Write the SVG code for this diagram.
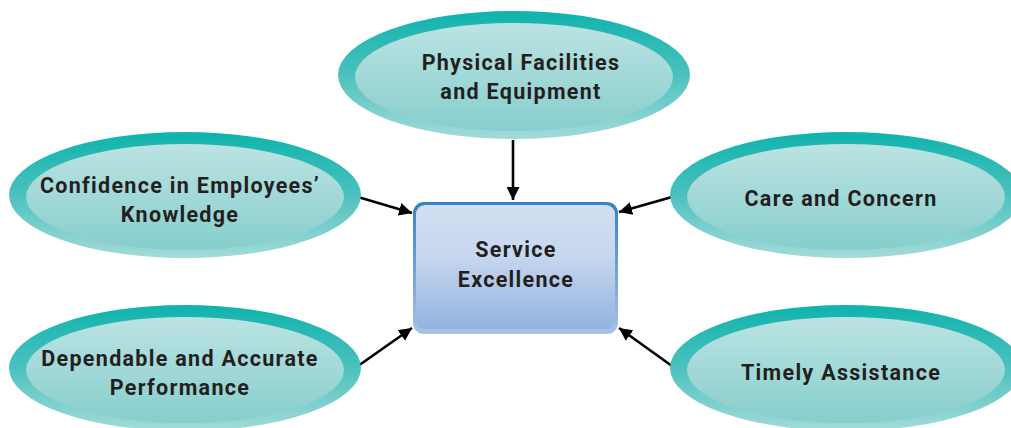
<svg xmlns="http://www.w3.org/2000/svg" width="1011" height="428" viewBox="0 0 1011 428">
<defs>
<linearGradient id="outer" x1="0" y1="0" x2="0" y2="1">
<stop offset="0" stop-color="#0fb3ad"/>
<stop offset="0.5" stop-color="#4cc1be"/>
<stop offset="1" stop-color="#a3dbd9"/>
</linearGradient>
<linearGradient id="inner" x1="0" y1="0" x2="0" y2="1">
<stop offset="0" stop-color="#bce3e3"/>
<stop offset="1" stop-color="#86cecc"/>
</linearGradient>
<linearGradient id="box" x1="0" y1="0" x2="0" y2="1">
<stop offset="0" stop-color="#d3dff1"/>
<stop offset="0.4" stop-color="#c7d7ee"/>
<stop offset="1" stop-color="#93b3df"/>
</linearGradient>
<linearGradient id="boxedge" x1="0" y1="0" x2="0" y2="1">
<stop offset="0" stop-color="#3583c4"/>
<stop offset="1" stop-color="#a9c2e6"/>
</linearGradient>
<marker id="ah" viewBox="0 0 10 10" refX="10" refY="5" markerWidth="5" markerHeight="5" markerUnits="strokeWidth" orient="auto">
<path d="M0,0 L10,5 L0,10 z" fill="#000"/>
</marker>
</defs>
<style>
.o{fill:url(#outer)}
.i{fill:url(#inner)}
.t{font-family:Roboto,"Liberation Sans",sans-serif;font-weight:700;font-size:21.5px;letter-spacing:1.3px;fill:#231f20;text-anchor:middle}
.c{stroke:#000;stroke-width:2.6;fill:none;marker-end:url(#ah)}
</style>
<rect width="1011" height="428" fill="#fff"/>
<g id="connectors">
<line class="c" x1="513" y1="140" x2="513" y2="200"/>
<line class="c" x1="358" y1="197" x2="412" y2="213"/>
<line class="c" x1="672" y1="197" x2="619" y2="212"/>
<line class="c" x1="358" y1="366" x2="412" y2="328"/>
<line class="c" x1="672" y1="366" x2="619" y2="328"/>
</g>
<g id="node-physical">
<ellipse class="o" cx="514" cy="75" rx="176" ry="64"/>
<ellipse class="i" cx="514" cy="77" rx="159" ry="54"/>
<text class="t" x="521" y="70">Physical Facilities</text>
<text class="t" x="521" y="99">and Equipment</text>
</g>
<g id="node-confidence">
<ellipse class="o" cx="185" cy="195" rx="176" ry="63"/>
<ellipse class="i" cx="185" cy="197" rx="159" ry="53"/>
<text class="t" x="180" y="193">Confidence in Employees’</text>
<text class="t" x="180" y="222">Knowledge</text>
</g>
<g id="node-care">
<ellipse class="o" cx="846" cy="195" rx="176" ry="63"/>
<ellipse class="i" cx="846" cy="197" rx="159" ry="53"/>
<text class="t" x="841" y="206">Care and Concern</text>
</g>
<g id="node-dependable">
<ellipse class="o" cx="185" cy="368" rx="176" ry="63"/>
<ellipse class="i" cx="185" cy="370" rx="159" ry="53"/>
<text class="t" x="180" y="366">Dependable and Accurate</text>
<text class="t" x="180" y="395">Performance</text>
</g>
<g id="node-timely">
<ellipse class="o" cx="846" cy="368" rx="176" ry="63"/>
<ellipse class="i" cx="846" cy="370" rx="159" ry="53"/>
<text class="t" x="841" y="380">Timely Assistance</text>
</g>
<g id="node-service">
<rect x="413" y="202" width="205" height="132" rx="11" fill="url(#boxedge)"/>
<rect x="416" y="205" width="199" height="124" rx="9" fill="url(#box)"/>
<text class="t" x="516" y="257">Service</text>
<text class="t" x="516" y="287">Excellence</text>
</g>
</svg>
